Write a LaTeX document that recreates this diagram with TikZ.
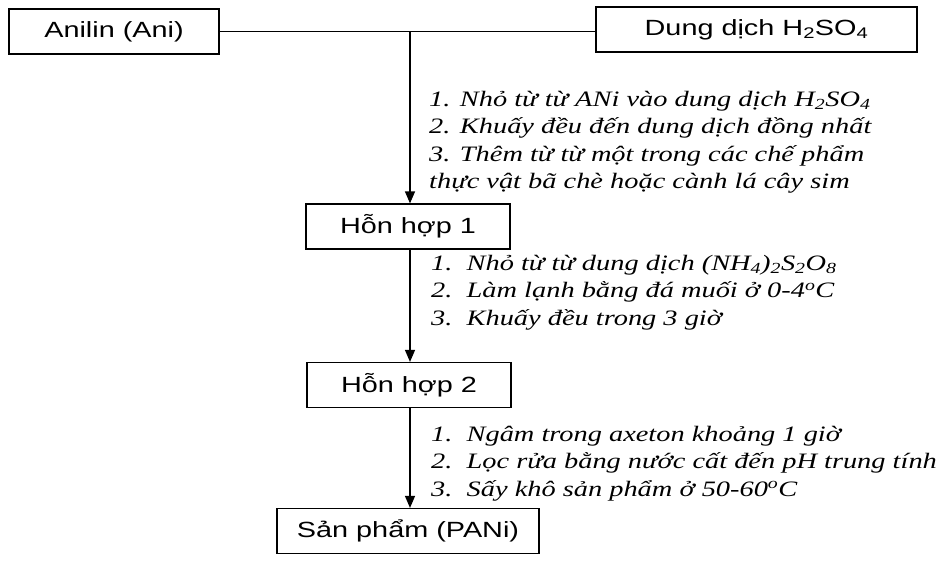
\documentclass[tikz,border=0pt]{standalone}
\usepackage{fontspec}
\setmainfont{Liberation Sans}[FakeStretch=1.31]
\newfontfamily\notefont{Liberation Serif}[FakeStretch=1.29]
\usetikzlibrary{arrows.meta}
\usetikzlibrary{positioning}

\begin{document}
\begin{tikzpicture}[x=1pt,y=-1pt]
\tikzstyle{stage}=[rectangle,draw=black,line width=1.2pt,inner sep=0pt,
minimum height=45pt,font=\fontsize{22}{26}\selectfont]
\tikzstyle{note}=[anchor=north west,align=left,inner sep=0pt,
font=\notefont\itshape\fontsize{22}{27.3}\selectfont]
\tikzstyle{flow}=[line width=1.2pt,-{Triangle[length=12pt,width=10pt]}]
\useasboundingbox (0,0) rectangle (944,563);
% boxes
\node[stage,minimum width=210pt] (ani) at (114,31.5) {Anilin (Ani)};
\node[stage,minimum width=321pt] (acid) at (756.5,29.5) {Dung dịch H\textsubscript{2}SO\textsubscript{4}};
\node[stage,minimum width=204pt] (mix1) at (408,226.5) {Hỗn hợp 1};
\node[stage,minimum width=204pt] (mix2) at (409,385) {Hỗn hợp 2};
\node[stage,minimum width=262pt] (pani) at (408,531) {Sản phẩm (PANi)};
\coordinate (join) at (410,31.5);
% connectors
\draw[line width=1.2pt] (ani.east) -- (acid.west |- ani.east);
\draw[flow] (join) -- (join |- mix1.north);
\draw[flow] (join |- mix1.south) -- (join |- mix2.north);
\draw[flow] (join |- mix2.south) -- (join |- pani.north);
% steps
\node[note] (step1) at (429,91) {1. Nhỏ từ từ ANi vào dung dịch H\textsubscript{2}SO\textsubscript{4}\\
2. Khuấy đều đến dung dịch đồng nhất\\
3. Thêm từ từ một trong các chế phẩm\\
thực vật bã chè hoặc cành lá cây sim};
\node[note] (step2) at (431,255) {1.\ \ Nhỏ từ từ dung dịch (NH\textsubscript{4})\textsubscript{2}S\textsubscript{2}O\textsubscript{8}\\
2.\ \ Làm lạnh bằng đá muối ở 0-4\textsuperscript{o}C\\
3.\ \ Khuấy đều trong 3 giờ};
\node[note] (step3) at (431,426) {1.\ \ Ngâm trong axeton khoảng 1 giờ\\
2.\ \ Lọc rửa bằng nước cất đến pH trung tính\\
3.\ \ Sấy khô sản phẩm ở 50-60\textsuperscript{o}C};
\end{tikzpicture}
\end{document}
